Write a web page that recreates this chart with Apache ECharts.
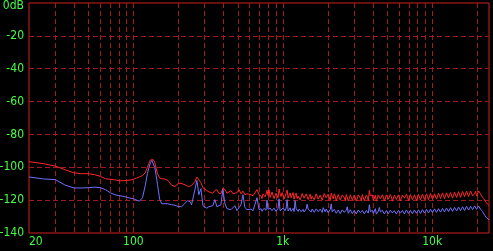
<!DOCTYPE html>
<html>
<head>
<meta charset="utf-8">
<style>
html,body{margin:0;padding:0;background:#000;}
#chart{width:493px;height:251px;}
</style>
<script src="https://cdn.jsdelivr.net/npm/echarts@6/dist/echarts.min.js"></script>
</head>
<body>
<div id="chart"></div>
<script>
// Frequencies (Hz)
const freq = [
  20,25,30,35,40,45,50,55,60,65,70,75,80,85,90,95,100,105,110,115,120,
  124,127,130,133,136,139,142,145,
  150,155,160,165,170,175,180,185,190,195,200,205,210,215,220,225,230,235,240,245,
  250,258,266,274,283,292,301,310,320,330,
  340,351,362,373,385,397,410,423,436,450,
  464,478,493,509,525,541,558,576,594,612,
  632,651,672,693,715,737,760,784,809,834,
  860,887,915,944,974,1004,1036,1068,1102,1136,
  1172,1209,1247,1286,1326,1368,1411,1455,1501,1548,
  1597,1647,1699,1752,1807,1864,1922,1983,2045,2109,
  2175,2244,2314,2387,2462,2539,2619,2701,2786,2873,
  2963,3056,3152,3251,3353,3459,3567,3679,3795,3914,
  4037,4163,4294,4429,4568,4711,4859,5011,5169,5331,
  5498,5671,5849,6032,6222,6417,6618,6826,7040,7261,
  7489,7724,7967,8217,8475,8741,9015,9298,9590,9891,
  10201,10522,10852,11193,11544,11906,12280,12665,13063,13473,
  13896,14332,14782,15246,15724,16218,16727,17252,17794,18352,
  18928,19523,20135,20767,21419,22092,22785,23500,24000
];
// Red trace (dB)
const redLevel = [
  -96.6,-97.8,-99.3,-101.5,-103.4,-103.9,-103.9,-104.5,-105.5,-107.0,-107.3,-107.6,-108.2,-108.2,-108.0,-107.8,-107.3,-106.5,-105.8,-105.0,-103.4,
  -100.0,-97.5,-95.5,-94.6,-95.4,-97.2,-100.5,-104.0,
  -106.5,-107.0,-107.0,-107.0,-108.0,-109.5,-110.8,-111.5,-111.8,-110.5,-109.5,-109.6,-110.0,-110.2,-110.6,-111.0,-111.2,-111.8,-111.6,-111.0,
  -110.3,-108.8,-105.9,-106.6,-109.4,-112.4,-113.6,-114.2,-114.9,-115.5,
  -115.8,-114.2,-113.6,-115.8,-116.1,-112.7,-113.6,-115.8,-114.9,-114.2,
  -116.1,-116.7,-115.5,-113.6,-116.1,-114.5,-116.7,-116.1,-115.5,-116.7,
  -117.3,-116.1,-113.6,-116.7,-117.5,-116.2,-118.0,-114.0,-113.6,-117.3,
  -115.5,-118.2,-116.5,-113.2,-117.8,-116.4,-118.5,-113.8,-117.0,-118.6,
  -115.4,-117.2,-119.0,-116.5,-118.2,-117.0,-119.2,-115.0,-118.0,-119.4,
  -116.8,-118.6,-117.4,-119.6,-116.6,-118.8,-117.2,-119.8,-117.0,-115.8,
  -119.2,-117.6,-119.9,-117.4,-118.9,-116.9,-120.0,-116.4,-119.1,-117.6,
  -120.2,-117.8,-119.4,-118.0,-120.1,-117.3,-119.6,-118.2,-114.0,-118.6,
  -120.3,-117.0,-119.5,-117.4,-120.0,-118.1,-119.7,-117.5,-120.2,-118.0,
  -119.5,-117.6,-120.1,-117.9,-119.4,-117.2,-119.9,-117.8,-119.6,-117.4,
  -120.0,-117.9,-119.2,-117.0,-119.5,-117.3,-119.8,-117.6,-119.0,-116.9,
  -119.3,-117.2,-118.9,-116.8,-119.2,-116.6,-118.7,-116.3,-118.8,-116.0,
  -118.4,-115.8,-118.2,-115.6,-118.0,-115.3,-117.6,-115.0,-117.4,-114.8,
  -117.0,-114.6,-116.4,-115.0,-117.5,-119.0,-121.0,-122.5,-123.2
];
// Blue trace (dB)
const blueLevel = [
  -105.9,-107.1,-107.5,-110.9,-112.6,-112.6,-112.4,-112.1,-112.4,-113.6,-115.5,-116.7,-117.3,-117.6,-118.2,-118.8,-119.1,-120.0,-120.6,-118.5,-111.2,
  -103.9,-100.2,-97.2,-95.8,-96.6,-100.2,-105.1,-110.6,
  -119.7,-122.2,-122.2,-122.5,-122.2,-122.5,-122.8,-122.8,-123.1,-123.4,-124.0,-124.6,-124.0,-123.4,-122.2,-121.2,-120.3,-120.0,-121.0,-122.8,
  -124.0,-113.6,-108.0,-116.7,-113.0,-123.4,-124.6,-124.9,-124.0,-124.3,
  -123.4,-119.7,-124.0,-124.9,-122.8,-113.6,-122.2,-125.2,-125.8,-125.8,
  -124.6,-123.4,-126.4,-124.6,-122.8,-116.7,-124.6,-125.8,-125.8,-125.5,
  -126.4,-125.8,-118.5,-125.8,-125.2,-126.4,-124.8,-120.0,-126.0,-124.9,
  -126.6,-125.3,-126.2,-119.2,-126.0,-124.8,-126.5,-119.7,-125.8,-126.8,
  -125.0,-120.3,-126.4,-125.4,-127.0,-125.6,-126.7,-122.5,-126.1,-127.2,
  -125.7,-126.9,-125.9,-127.3,-126.2,-124.6,-127.1,-126.0,-127.4,-122.3,
  -127.0,-126.2,-127.8,-126.5,-127.6,-126.3,-127.9,-124.0,-127.2,-126.4,
  -128.0,-126.7,-127.8,-126.5,-128.1,-126.9,-127.7,-126.6,-122.8,-127.5,
  -128.2,-125.2,-127.9,-124.5,-127.8,-126.8,-128.2,-126.9,-127.6,-126.6,
  -128.3,-127.0,-127.7,-126.8,-128.1,-126.9,-127.5,-126.7,-128.0,-126.8,
  -127.4,-126.5,-127.9,-126.6,-127.3,-126.4,-127.6,-126.3,-127.2,-126.0,
  -127.4,-125.9,-126.9,-125.7,-127.0,-125.6,-126.6,-125.4,-126.5,-125.2,
  -126.3,-124.9,-126.0,-124.8,-125.9,-124.6,-125.6,-124.4,-125.4,-124.2,
  -125.2,-124.0,-124.5,-124.8,-126.4,-128.2,-130.0,-131.3,-132.0
];
// Extra in-between readings of the noisy upper band (Hz)
const freqFine = [
  726,748,772,796,822,847,873,901,929,959,
  989,1020,1052,1085,1119,1154,1190,1228,1266,1306,
  1347,1389,1433,1478,1524,1572,1622,1673,1726,1779,
  1835,1893,1952,2014,2077,2142,2209,2279,2350,2424,
  2500,2579,2660,2743,2829,2918,3009,3104,3201,3302,
  3405,3513,3623,3736,3854,3975,4100,4228,4361,4498,
  4639,4784,4935,5089,5250,5414,5584,5759,5940,6126,
  6319,6517,6721,6932,7150,7374,7606,7844,8091,8345,
  8607,8877,9156,9443,9740,10045,10360,10686,11021,11368,
  11724,12092,12472,12863,13267,13683,14113,14556,15013,15484,
  15969,16471,16988,17521,18072,18638,19223,19828,20449,21091,
  21753,22437,23140
];
const redFine = [
  -119.0,-115.6,-116.4,-117.2,-118.4,-115.0,-119.0,-115.8,-118.6,-116.2,
  -115.4,-119.2,-116.0,-118.8,-115.6,-117.0,-119.4,-115.8,-117.4,-119.8,
  -116.0,-118.8,-116.2,-119.6,-116.4,-117.6,-119.8,-116.2,-119.4,-117.0,
  -120.0,-116.0,-118.6,-116.4,-120.2,-117.8,-116.2,-120.4,-116.6,-120.0,
  -116.8,-118.6,-116.6,-120.4,-116.8,-119.8,-117.0,-120.6,-116.8,-118.8,
  -116.6,-120.4,-116.9,-120.2,-117.4,-116.8,-118.8,-120.6,-116.8,-119.2,
  -116.7,-120.5,-116.8,-119.4,-116.6,-120.6,-117.0,-119.6,-116.8,-120.4,
  -116.9,-118.8,-116.5,-120.2,-116.6,-119.8,-116.8,-120.1,-116.5,-119.9,
  -116.4,-119.6,-116.2,-119.9,-116.0,-119.5,-116.1,-119.4,-115.8,-119.0,
  -115.6,-119.1,-115.5,-118.6,-115.4,-118.8,-115.1,-118.4,-114.9,-118.3,
  -114.7,-117.9,-114.5,-117.8,-114.4,-117.4,-116.0,-117.4,-114.4,-116.2,
  -118.0,-120.0,-121.8
];
const blueFine = [
  -126.8,-125.0,-126.2,-125.6,-124.8,-126.4,-124.9,-126.8,-125.0,-126.5,
  -126.9,-125.4,-124.9,-126.6,-124.7,-125.6,-126.9,-125.3,-126.9,-124.9,
  -126.0,-127.2,-125.4,-125.5,-125.1,-125.4,-127.4,-125.3,-127.0,-125.5,
  -127.5,-125.8,-125.4,-127.6,-125.8,-127.2,-125.6,-128.0,-126.0,-128.2,
  -125.9,-127.4,-126.1,-128.0,-125.8,-128.2,-126.2,-128.4,-126.0,-127.6,
  -126.3,-128.4,-126.2,-127.9,-127.0,-126.2,-127.0,-128.5,-126.6,-127.2,
  -126.2,-128.4,-126.3,-128.3,-126.1,-127.8,-126.4,-128.5,-126.2,-127.9,
  -126.3,-128.4,-126.0,-128.1,-126.2,-128.3,-126.0,-128.0,-125.9,-128.1,
  -125.8,-127.9,-125.6,-127.8,-125.5,-127.6,-125.3,-127.5,-125.2,-127.3,
  -125.0,-127.2,-124.8,-127.0,-124.6,-126.8,-124.4,-126.6,-124.2,-126.4,
  -124.0,-126.3,-123.8,-126.0,-123.7,-125.8,-123.5,-125.6,-123.6,-125.6,
  -127.0,-129.2,-130.8
];
// Axis ticks / labels
const xLabelValues = [20, 100, 1000, 10000];
const xLabelText = ['20', '100', '1k', '10k'];
const xGridValues = [30,40,50,60,70,80,90,100,200,300,400,500,600,700,800,900,
  1000,2000,3000,4000,5000,6000,7000,8000,9000,10000,20000];
const yMin = -140, yMax = 0, yStep = 20;

const labelGreen = '#44ff44';
const gridRed = '#a01c1c';
const borderRed = '#d02020';
const labelFont = '"Liberation Sans Narrow", "DejaVu Sans Condensed", "Liberation Sans", sans-serif';

// Merge the readings into one frequency-ordered table
const table = freq.map(function (f, i) { return [f, redLevel[i], blueLevel[i]]; })
  .concat(freqFine.map(function (f, i) { return [f, redFine[i], blueFine[i]]; }))
  .sort(function (a, b) { return a[0] - b[0]; });

const chart = echarts.init(document.getElementById('chart'), null, {renderer: 'canvas'});
chart.setOption({
  backgroundColor: '#000',
  animation: false,
  grid: {left: 29, right: 4, top: 3, bottom: 18, containLabel: false, outerBoundsMode: 'none',
         show: true, borderColor: borderRed, borderWidth: 1, backgroundColor: '#000'},
  xAxis: {
    type: 'log', logBase: 10, min: 20, max: 24000,
    axisLine: {show: false},
    axisTick: {show: false, customValues: xGridValues},
    axisLabel: {
      customValues: xLabelValues,
      formatter: function (v) {
        const i = xLabelValues.findIndex(function (t) { return Math.abs(t - v) / t < 0.01; });
        return i >= 0 ? xLabelText[i] : '';
      },
      color: labelGreen, fontFamily: labelFont, fontSize: 12, margin: 3,
      alignMinLabel: 'left'
    },
    splitLine: {show: true, lineStyle: {color: gridRed, width: 1, type: [5, 3]}}
  },
  yAxis: {
    type: 'value', min: yMin, max: yMax, interval: yStep,
    axisLine: {show: false},
    axisTick: {show: false},
    axisLabel: {
      formatter: function (v) { return v === 0 ? '0dB' : String(v); },
      color: labelGreen, fontFamily: labelFont, fontSize: 12, margin: 5,
      lineHeight: 6,
      verticalAlignMaxLabel: 'top'
    },
    splitLine: {show: true, showMinLine: false, showMaxLine: false, lineStyle: {color: gridRed, width: 1, type: [5, 3]}}
  },
  series: [
    {type: 'line', name: 'L', showSymbol: false, symbol: 'none',
     lineStyle: {color: '#ff2828', width: 1}, itemStyle: {color: '#ff2828'},
     data: table.map(function (r) { return [r[0], r[1]]; })},
    {type: 'line', name: 'R', showSymbol: false, symbol: 'none',
     lineStyle: {color: '#7070ff', width: 1}, itemStyle: {color: '#7070ff'},
     data: table.map(function (r) { return [r[0], r[2]]; })}
  ]
});
</script>
</body>
</html>
